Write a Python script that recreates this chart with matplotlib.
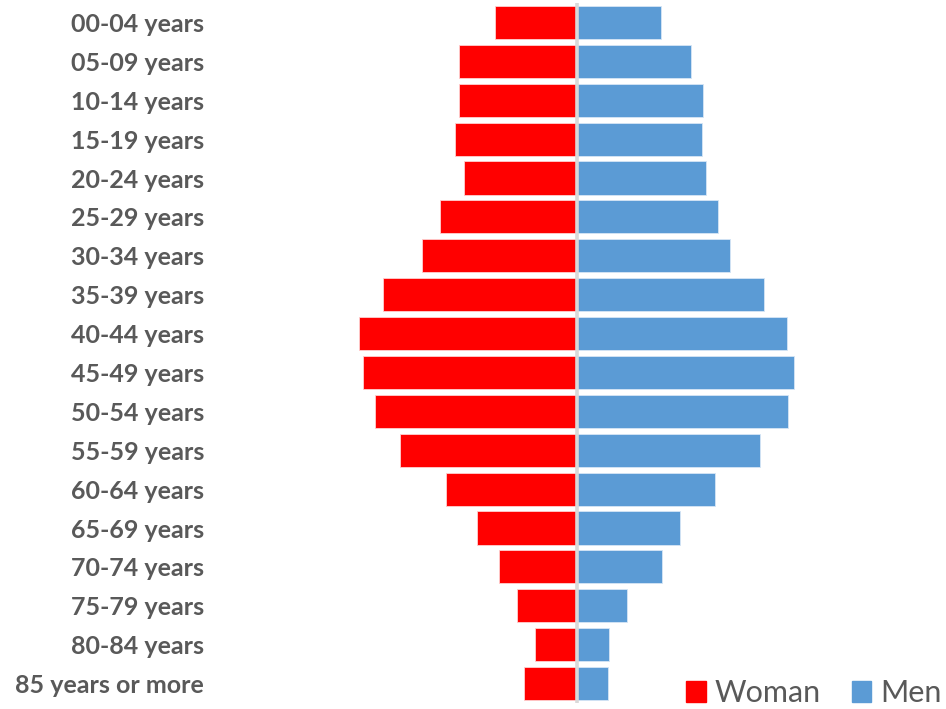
import matplotlib
matplotlib.use("Agg")
import matplotlib.pyplot as plt
from matplotlib.patches import Patch

age_groups = ["00-04 years", "05-09 years", "10-14 years", "15-19 years",
              "20-24 years", "25-29 years", "30-34 years", "35-39 years",
              "40-44 years", "45-49 years", "50-54 years", "55-59 years",
              "60-64 years", "65-69 years", "70-74 years", "75-79 years",
              "80-84 years", "85 years or more"]
woman = [82, 118, 118, 122, 113, 137, 155, 194, 218, 214, 202, 177,
         131, 100, 78, 60, 42, 53]
men = [84, 114, 126, 125, 129, 141, 153, 187, 210, 217, 211, 183,
       138, 103, 85, 50, 32, 31]

W, H = 946, 709
fig = plt.figure(figsize=(W / 100, H / 100), dpi=100)
ax_left, ax_right = 300, 850
ax_top, ax_bottom = 3, 703
ax = fig.add_axes([ax_left / W, 1 - ax_bottom / H,
                   (ax_right - ax_left) / W, (ax_bottom - ax_top) / H])

center = 577
ax.set_xlim(ax_left - center, ax_right - center)
ax.set_ylim(len(age_groups) - 0.5, -0.5)

y = list(range(len(age_groups)))
red = "#ff0000"
blue = "#5b9bd5"
ax.barh(y, [-v for v in woman], height=0.85, color=red,
        edgecolor="#ffd0d0", linewidth=0.6)
ax.barh(y, men, height=0.85, color=blue,
        edgecolor="#d6e6f5", linewidth=0.6)
ax.axvline(0, color="#d9d9d9", lw=2.6, zorder=3)

ax.set_yticks(y)
ax.set_yticklabels(age_groups, fontsize=18, fontweight="bold",
                   color="#595959", family="Lato")
ax.tick_params(axis="y", length=0, pad=(ax_left - 204) * 0.72)
ax.set_xticks([])
for s in ax.spines.values():
    s.set_visible(False)

handles = [Patch(color=red, label="Woman"), Patch(color=blue, label="Men")]
fig.legend(handles=handles, loc="lower right", bbox_to_anchor=(0.999, -0.002),
           borderaxespad=0.0, borderpad=0.1,
           ncol=2, frameon=False, handlelength=0.65, handleheight=0.7,
           handletextpad=0.3, columnspacing=1.0,
           prop={"family": "Lato", "size": 22}, labelcolor="#595959")

fig.savefig("out.png", dpi=100)
